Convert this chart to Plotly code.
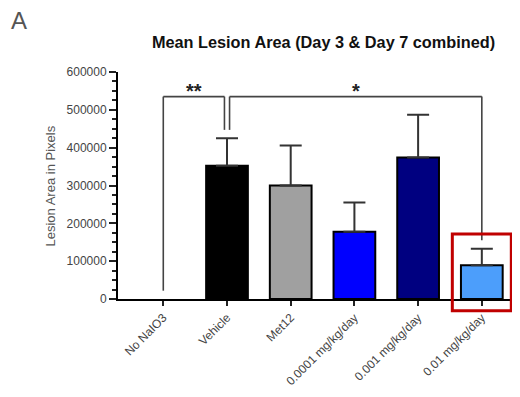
import plotly.graph_objects as go

# ---- data ----
categories = ["No NaIO3", "Vehicle", "Met12", "0.0001 mg/kg/day", "0.001 mg/kg/day", "0.01 mg/kg/day"]
means = [0, 352000, 300000, 178000, 374000, 89000]
sem_up = [0, 73000, 106000, 77000, 113000, 44000]
bar_colors = ["#FFFFFF", "#000000", "#A0A0A0", "#0000FF", "#000080", "#4C9EFB"]
y_ticks = [0, 100000, 200000, 300000, 400000, 500000, 600000]
# significance comparisons: (from index, to index, label)
comparisons = [(0, 1, "**"), (1, 5, "*")]
bracket_y = 535000
leg_gap = 22000
highlight_index = 5

FONT = "Liberation Sans, Arial, Helvetica, sans-serif"
x_range = [-0.711, 5.568]
y_range = [0, 600000]

# page body has an 8px default margin; compensate so the plot lands where the reference has it
OFF = 8
W, H = 520 - OFF, 397 - OFF

fig = go.Figure()
idx_all = list(range(len(categories)))
nz = [i for i in idx_all if means[i] != 0]
z = [i for i in idx_all if means[i] == 0]
# zero-height bars (nothing visible)
fig.add_trace(go.Bar(
    x=z, y=[means[i] for i in z],
    marker=dict(color="rgba(0,0,0,0)", line=dict(width=0)),
    width=0.655, showlegend=False,
))
fig.add_trace(go.Bar(
    x=nz, y=[means[i] for i in nz],
    marker=dict(color=[bar_colors[i] for i in nz], line=dict(color="black", width=2)),
    width=0.655,
    error_y=dict(type="data", array=[sem_up[i] for i in nz],
                 arrayminus=[0]*len(nz), symmetric=False,
                 color="#333333", thickness=2, width=11, visible=True),
    showlegend=False,
))

shapes = []
annotations = []
for a, b, label in comparisons:
    xa = a + (0.04 if a == 1 else 0)
    xb = b - (0.04 if b == 1 else 0)
    ya = means[a] + sem_up[a] + leg_gap
    yb = means[b] + sem_up[b] + leg_gap
    line = dict(color="#444444", width=1.6)
    shapes.append(dict(type="line", xref="x", yref="y", x0=xa, x1=xa, y0=ya, y1=bracket_y, line=line))
    shapes.append(dict(type="line", xref="x", yref="y", x0=xa, x1=xb, y0=bracket_y, y1=bracket_y, line=line))
    shapes.append(dict(type="line", xref="x", yref="y", x0=xb, x1=xb, y0=yb, y1=bracket_y, line=line))
    annotations.append(dict(x=(xa + xb) / 2, y=bracket_y, xref="x", yref="y", text="<b>" + label + "</b>",
                            showarrow=False, yanchor="bottom", yshift=-7,
                            font=dict(family=FONT, size=20, color="#222222")))

# red highlight box around last bar (domain fractions derived from data index)
def xfrac(v):
    return (v - x_range[0]) / (x_range[1] - x_range[0])
def yfrac(v):
    return (v - y_range[0]) / (y_range[1] - y_range[0])
shapes.append(dict(type="rect", xref="x domain", yref="y domain",
                   x0=xfrac(highlight_index - 0.463), x1=xfrac(highlight_index + 0.463),
                   y0=yfrac(-31000), y1=yfrac(172000),
                   line=dict(color="#C00000", width=3), fillcolor="rgba(0,0,0,0)"))

annotations.append(dict(text="A", xref="paper", yref="paper", x=-0.272, y=1.229,
                        xanchor="left", yanchor="middle", showarrow=False,
                        font=dict(family=FONT, size=24, color="#555555")))
annotations.append(dict(text="Lesion Area in Pixels", xref="paper", yref="paper", x=-0.17, y=0.4956,
                        xanchor="center", yanchor="middle", textangle=-90, showarrow=False,
                        font=dict(family=FONT, size=13, color="#555555")))

fig.update_layout(
    width=W, height=H,
    margin=dict(l=118 - OFF, r=2, t=72 - OFF, b=98),
    paper_bgcolor="white", plot_bgcolor="white",
    barmode="overlay",
    title=dict(text="<b>Mean Lesion Area (Day 3 & Day 7 combined)</b>", xref="container",
               x=(323.5 - OFF) / W, xanchor="center", y=1 - (42 - OFF) / H, yanchor="middle",
               font=dict(family=FONT, size=16.3, color="#111111")),
    shapes=shapes, annotations=annotations,
    font=dict(family=FONT),
)
fig.update_xaxes(range=x_range, tickmode="array", tickvals=idx_all, ticktext=categories,
                 tickangle=-45, showline=True, linecolor="black", linewidth=2,
                 ticks="outside", ticklen=5, tickwidth=2, tickcolor="#222222",
                 showgrid=False, zeroline=False,
                 tickfont=dict(family=FONT, size=12, color="#444444"))
fig.update_yaxes(range=y_range, tickmode="array", tickvals=y_ticks, tickformat="d",
                 showline=True, linecolor="black", linewidth=2,
                 ticks="outside", ticklen=7, tickwidth=2, tickcolor="#222222",
                 minor=dict(dtick=25000, ticks="outside", ticklen=4, tickwidth=1.5, tickcolor="#222222", showgrid=False),
                 showgrid=False, zeroline=False,
                 tickfont=dict(family=FONT, size=12, color="#444444"))

fig.write_html("out.html")
